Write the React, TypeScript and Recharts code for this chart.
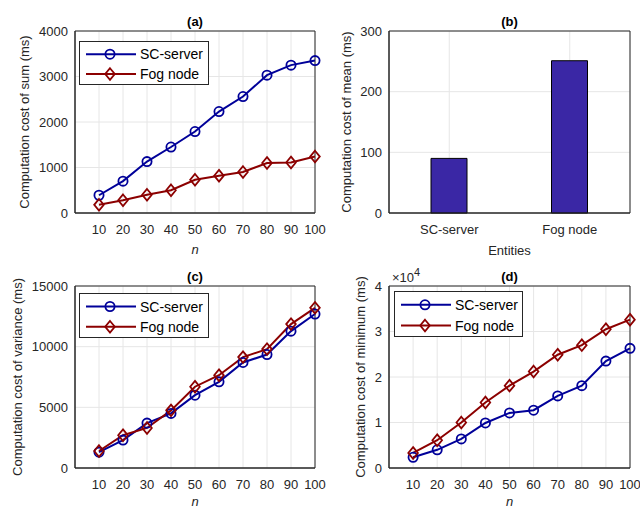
import React from 'react';
import {
  LineChart,
  Line,
  BarChart,
  Bar,
  XAxis,
  YAxis,
  CartesianGrid,
  ReferenceArea,
  Legend,
  Label,
} from 'recharts';

const FONT = '"Liberation Sans", Arial, Helvetica, sans-serif';
const AXIS = '#262626';
const GRID = '#e6e6e6';
const BLUE = '#000099';
const RED = '#8c0000';
const BAR = '#3a27a5';

// ---------- data ----------
const nValues = [10, 20, 30, 40, 50, 60, 70, 80, 90, 100];

const sumSC = [390, 700, 1130, 1450, 1790, 2230, 2560, 3030, 3250, 3350];
const sumFog = [180, 280, 400, 500, 730, 820, 900, 1100, 1110, 1240];

const entities = ['SC-server', 'Fog node'];
const meanCost = [90, 251];

const varSC = [1300, 2300, 3700, 4500, 6000, 7100, 8700, 9350, 11280, 12690];
const varFog = [1400, 2700, 3300, 4750, 6700, 7650, 9140, 9800, 11860, 13200];

const minSC = [2350, 4000, 6400, 9900, 12100, 12700, 15850, 18100, 23500, 26300];
const minFog = [3300, 6100, 10000, 14400, 18100, 21200, 24900, 27000, 30500, 32600];

const sumTicks = [0, 1000, 2000, 3000, 4000];
const meanTicks = [0, 100, 200, 300];
const varTicks = [0, 5000, 10000, 15000];
const minTicks = [0, 10000, 20000, 30000, 40000];

const seriesNames = ['SC-server', 'Fog node'];
const seriesColors = [BLUE, RED];

// ---------- markers ----------
const circleShape = (cx: number, cy: number, color: string, key?: string) => (
  <circle key={key} cx={cx} cy={cy} r={4.6} fill="none" stroke={color} strokeWidth={1.8} />
);
const diamondShape = (cx: number, cy: number, color: string, key?: string) => (
  <path
    key={key}
    d={`M${cx},${cy - 5.8}L${cx + 4.8},${cy}L${cx},${cy + 5.8}L${cx - 4.8},${cy}Z`}
    fill="none"
    stroke={color}
    strokeWidth={1.8}
    strokeLinejoin="miter"
  />
);

const circleDot = (color: string) => (p: any) =>
  circleShape(p.cx, p.cy, color, `c-${p.index}`);
const diamondDot = (color: string) => (p: any) =>
  diamondShape(p.cx, p.cy, color, `d-${p.index}`);

function LegendBox({ w, h }: { w: number; h: number }) {
  const rows = [h * 0.3, h * 0.75];
  return (
    <svg width={w} height={h} style={{ display: 'block' }}>
      <rect x={0.5} y={0.5} width={w - 1} height={h - 1} fill="#fff" stroke={AXIS} strokeWidth={1} />
      {seriesNames.map((name, i) => {
        const y = rows[i];
        const color = seriesColors[i];
        return (
          <g key={name}>
            <line x1={7} x2={57} y1={y} y2={y} stroke={color} strokeWidth={2} />
            {i === 0 ? circleShape(31, y, color) : diamondShape(31, y, color)}
            <text x={61} y={y} dy="0.36em" fontSize={14} fontFamily={FONT} fill="#000">
              {name}
            </text>
          </g>
        );
      })}
    </svg>
  );
}

const tickStyle = { fill: AXIS, fontSize: 13, fontFamily: FONT };
const labelStyle = { fill: AXIS, fontSize: 13, fontFamily: FONT };

type LinePanelProps = {
  left: number;
  top: number;
  width: number;
  height: number;
  title: string;
  yLabel: string;
  yLabelX: number;
  plotLeft: number;
  plotRight: number;
  yTicks: number[];
  tickFmt?: (v: number) => string;
  sc: number[];
  fog: number[];
  legend: { x: number; y: number; w: number; h: number };
  multiplier?: boolean;
  nBaseline: number;
};

function LinePanel(props: LinePanelProps) {
  const {
    left, top, width, height, title, yLabel, yLabelX, plotLeft, plotRight, yTicks, tickFmt, sc, fog, legend,
    multiplier, nBaseline,
  } = props;
  const data = nValues.map((n, i) => ({ n, sc: sc[i], fog: fog[i] }));
  const yMax = yTicks[yTicks.length - 1];
  // plot bottom sits at 213 within the panel; x-axis band runs to the bottom of the svg
  const xAxisHeight = height - 213;
  return (
    <div style={{ position: 'absolute', left, top }}>
      <LineChart
        width={width}
        height={height}
        data={data}
        margin={{ top: 11, right: width - plotRight, bottom: 0, left: 0 }}
      >
        <CartesianGrid stroke={GRID} strokeWidth={1} />
        <XAxis
          xAxisId="top"
          orientation="top"
          dataKey="n"
          type="number"
          domain={[0, 100]}
          height={20}
          axisLine={false}
          tickLine={false}
          tick={false}
        >
          <Label
            value={title}
            position="center"
            style={{ fill: '#000', fontSize: 13, fontWeight: 'bold', fontFamily: FONT }}
          />
          {multiplier ? (
            <Label
              content={(lp: any) => {
                const vb = lp.viewBox || { x: plotLeft, y: 11 };
                return (
                  <text x={vb.x + 3} y={vb.y + 16} fontSize={13} fontFamily={FONT} fill={AXIS}>
                    ×10
                    <tspan dy={-6} fontSize={11}>
                      4
                    </tspan>
                  </text>
                );
              }}
            />
          ) : null}
        </XAxis>
        <XAxis
          dataKey="n"
          type="number"
          domain={[0, 100]}
          ticks={nValues}
          interval={0}
          height={xAxisHeight}
          axisLine={{ stroke: AXIS }}
          tickLine={false}
          tickSize={0}
          tickMargin={12}
          tick={tickStyle}
        >
          <Label
            value="n"
            position="insideBottom"
            offset={xAxisHeight - nBaseline}
            style={{ ...labelStyle, fontStyle: 'italic' }}
          />
        </XAxis>
        <YAxis
          type="number"
          domain={[0, yMax]}
          ticks={yTicks}
          interval={0}
          width={plotLeft}
          axisLine={{ stroke: AXIS }}
          tickLine={false}
          tickSize={0}
          tickMargin={7}
          tick={tickStyle}
          tickFormatter={tickFmt}
        >
          <Label
            value={yLabel}
            angle={-90}
            position="insideLeft"
            offset={yLabelX}
            style={{ ...labelStyle, textAnchor: 'middle' }}
          />
        </YAxis>
        <ReferenceArea y1={0} y2={yMax} fill="none" fillOpacity={0} stroke={AXIS} strokeWidth={1} />
        <Line
          dataKey="sc"
          name="SC-server"
          stroke={BLUE}
          strokeWidth={2}
          dot={circleDot(BLUE)}
          activeDot={false}
          isAnimationActive={false}
        />
        <Line
          dataKey="fog"
          name="Fog node"
          stroke={RED}
          strokeWidth={2}
          dot={diamondDot(RED)}
          activeDot={false}
          isAnimationActive={false}
        />
        <Legend
          layout="vertical"
          align="center"
          verticalAlign="middle"
          wrapperStyle={{ left: legend.x, top: legend.y, width: legend.w, height: legend.h }}
          content={() => <LegendBox w={legend.w} h={legend.h} />}
        />
      </LineChart>
    </div>
  );
}

function BarPanel() {
  const data = entities.map((e, i) => ({ entity: e, cost: meanCost[i] }));
  const height = 262;
  const xAxisHeight = height - 213;
  return (
    <div style={{ position: 'absolute', left: 320, top: 0 }}>
      <BarChart width={320} height={height} data={data} margin={{ top: 11, right: 10, bottom: 0, left: 0 }}>
        <CartesianGrid stroke={GRID} strokeWidth={1} />
        <XAxis
          xAxisId="top"
          orientation="top"
          dataKey="entity"
          height={20}
          axisLine={false}
          tickLine={false}
          tick={false}
        >
          <Label
            value="(b)"
            position="center"
            style={{ fill: '#000', fontSize: 13, fontWeight: 'bold', fontFamily: FONT }}
          />
        </XAxis>
        <XAxis
          dataKey="entity"
          height={xAxisHeight}
          axisLine={{ stroke: AXIS }}
          tickLine={false}
          tickSize={0}
          tickMargin={12}
          tick={tickStyle}
          interval={0}
        >
          <Label value="Entities" position="insideBottom" offset={xAxisHeight - 42} style={labelStyle} />
        </XAxis>
        <YAxis
          type="number"
          domain={[0, 300]}
          ticks={meanTicks}
          interval={0}
          width={69}
          axisLine={{ stroke: AXIS }}
          tickLine={false}
          tickSize={0}
          tickMargin={7}
          tick={tickStyle}
        >
          <Label
            value="Computation cost of mean (ms)"
            angle={-90}
            position="insideLeft"
            offset={26}
            style={{ ...labelStyle, textAnchor: 'middle' }}
          />
        </YAxis>
        <ReferenceArea y1={0} y2={300} fill="none" fillOpacity={0} stroke={AXIS} strokeWidth={1} />
        <Bar dataKey="cost" fill={BAR} stroke="#000" strokeWidth={1} barSize={36} isAnimationActive={false} />
      </BarChart>
    </div>
  );
}

export default function App() {
  return (
    <div
      style={{
        position: 'absolute',
        left: 0,
        top: 0,
        width: 640,
        height: 510,
        background: '#fff',
        fontFamily: FONT,
        overflow: 'hidden',
      }}
    >
      <LinePanel
        left={0}
        top={0}
        width={332}
        height={262}
        title="(a)"
        yLabel="Computation cost of sum (ms)"
        yLabelX={24}
        plotLeft={75}
        plotRight={315}
        yTicks={sumTicks}
        sc={sumSC}
        fog={sumFog}
        legend={{ x: 79, y: 41, w: 130, h: 44 }}
        nBaseline={41}
      />
      <BarPanel />
      <LinePanel
        left={0}
        top={255}
        width={332}
        height={255}
        title="(c)"
        yLabel="Computation cost of variance (ms)"
        yLabelX={17}
        plotLeft={75}
        plotRight={315}
        yTicks={varTicks}
        sc={varSC}
        fog={varFog}
        legend={{ x: 79, y: 38, w: 130, h: 45 }}
        nBaseline={38}
      />
      <LinePanel
        left={320}
        top={255}
        width={320}
        height={255}
        title="(d)"
        yLabel="Computation cost of minimum (ms)"
        yLabelX={40}
        plotLeft={69}
        plotRight={310}
        yTicks={minTicks}
        tickFmt={(v: number) => String(v / 10000)}
        sc={minSC}
        fog={minFog}
        legend={{ x: 74, y: 36, w: 129, h: 46 }}
        multiplier
        nBaseline={38}
      />
    </div>
  );
}
